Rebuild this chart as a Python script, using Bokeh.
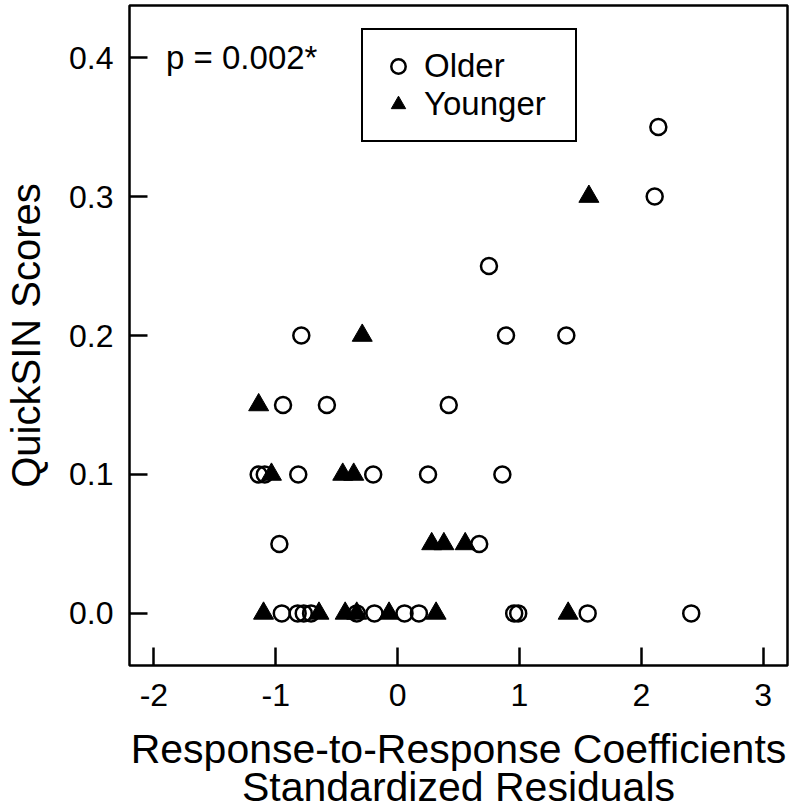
from bokeh.plotting import figure
from bokeh.models import Range1d, FixedTicker, Legend, LegendItem, Label
from bokeh.embed import file_html
from bokeh.resources import INLINE

# ---- data ----
older_x = [2.14, 2.11, 0.75,
           -0.79, 0.89, 1.385,
           -0.94, -0.58, 0.42,
           -1.14, -1.09, -0.815, -0.20, 0.25, 0.86,
           -0.97, 0.67,
           -0.95, -0.82, -0.77, -0.71, -0.335, -0.19, 0.057, 0.175, 0.957, 0.99, 1.56, 2.41]
older_y = [0.35, 0.30, 0.25,
           0.20, 0.20, 0.20,
           0.15, 0.15, 0.15,
           0.10, 0.10, 0.10, 0.10, 0.10, 0.10,
           0.05, 0.05,
           0.0, 0.0, 0.0, 0.0, 0.0, 0.0, 0.0, 0.0, 0.0, 0.0, 0.0, 0.0]

younger_x = [1.57, -0.29, -1.14,
             -1.035, -0.45, -0.36,
             0.28, 0.38, 0.555,
             -1.10, -0.645, -0.43, -0.335, -0.07, 0.316, 1.40]
younger_y = [0.30, 0.20, 0.15,
             0.10, 0.10, 0.10,
             0.05, 0.05, 0.05,
             0.0, 0.0, 0.0, 0.0, 0.0, 0.0, 0.0]

x_ticks = [-2, -1, 0, 1, 2, 3]
x_tick_labels = ["-2", "-1", "0", "1", "2", "3"]
y_ticks = [0.0, 0.1, 0.2, 0.3, 0.4]
y_tick_labels = ["0.0", "0.1", "0.2", "0.3", "0.4"]

FONT = "Liberation Sans"

p = figure(width=792, height=812, output_backend="svg", toolbar_location=None,
           x_range=Range1d(-2.2, 3.2), y_range=Range1d(-0.0375, 0.4375),
           min_border_left=129, min_border_right=5, min_border_top=5, min_border_bottom=0)

p.grid.visible = False
p.outline_line_color = "black"
p.outline_line_width = 2.5
p.outline_line_alpha = 1.0
p.background_fill_color = "white"
p.border_fill_color = "white"

# axes
p.xaxis.ticker = FixedTicker(ticks=x_ticks)
p.xaxis.major_label_overrides = {t: l for t, l in zip(x_ticks, x_tick_labels)}
p.yaxis.ticker = FixedTicker(ticks=y_ticks)
p.yaxis.major_label_overrides = {t: l for t, l in zip(y_ticks, y_tick_labels)}
for ax in (p.xaxis, p.yaxis):
    ax.axis_line_color = None
    ax.major_tick_in = 18
    ax.major_tick_out = 0
    ax.major_tick_line_width = 2.5
    ax.major_tick_line_color = "black"
    ax.minor_tick_line_color = None
    ax.major_label_text_font = FONT
    ax.major_label_text_font_size = "32px"
    ax.major_label_text_color = "black"
    ax.axis_label_text_font = FONT
    ax.axis_label_text_font_style = "normal"
    ax.axis_label_text_color = "black"

p.xaxis.axis_label_text_font_size = "41px"
p.yaxis.axis_label_text_font_size = "40px"
p.xaxis.major_label_standoff = 18
p.yaxis.major_label_standoff = 16
p.xaxis.axis_label = "Response-to-Response Coefficients\nStandardized Residuals"
p.xaxis.axis_label_text_line_height = 0.83
p.xaxis.axis_label_standoff = 17
p.yaxis.axis_label = "QuickSIN Scores"
p.yaxis.axis_label_standoff = 18

# points
r_old = p.scatter(older_x, older_y, marker="circle", size=16, fill_color=None,
                  line_color="black", line_width=2.5)
r_young = p.scatter(younger_x, younger_y, marker="triangle", size=20,
                    fill_color="black", line_color="black", line_width=1)

# p-value annotation
p.add_layout(Label(x=-1.9, y=0.4, text="p = 0.002*", text_font=FONT,
                   text_font_size="33px", text_baseline="middle", text_align="left",
                   text_color="black"))

legend = Legend(items=[LegendItem(label="Older", renderers=[r_old]),
                       LegendItem(label="Younger", renderers=[r_young])],
                location=(232, 523), margin=0, padding=17, spacing=0,
                glyph_width=36, glyph_height=36, label_height=36, label_width=134,
                label_standoff=8, label_text_font=FONT, label_text_font_size="33px",
                label_text_color="black", border_line_color="black",
                border_line_width=2.5, border_line_alpha=1.0,
                background_fill_color="white", background_fill_alpha=1.0)
p.add_layout(legend, "center")

open("out.html", "w").write(file_html(p, INLINE))
